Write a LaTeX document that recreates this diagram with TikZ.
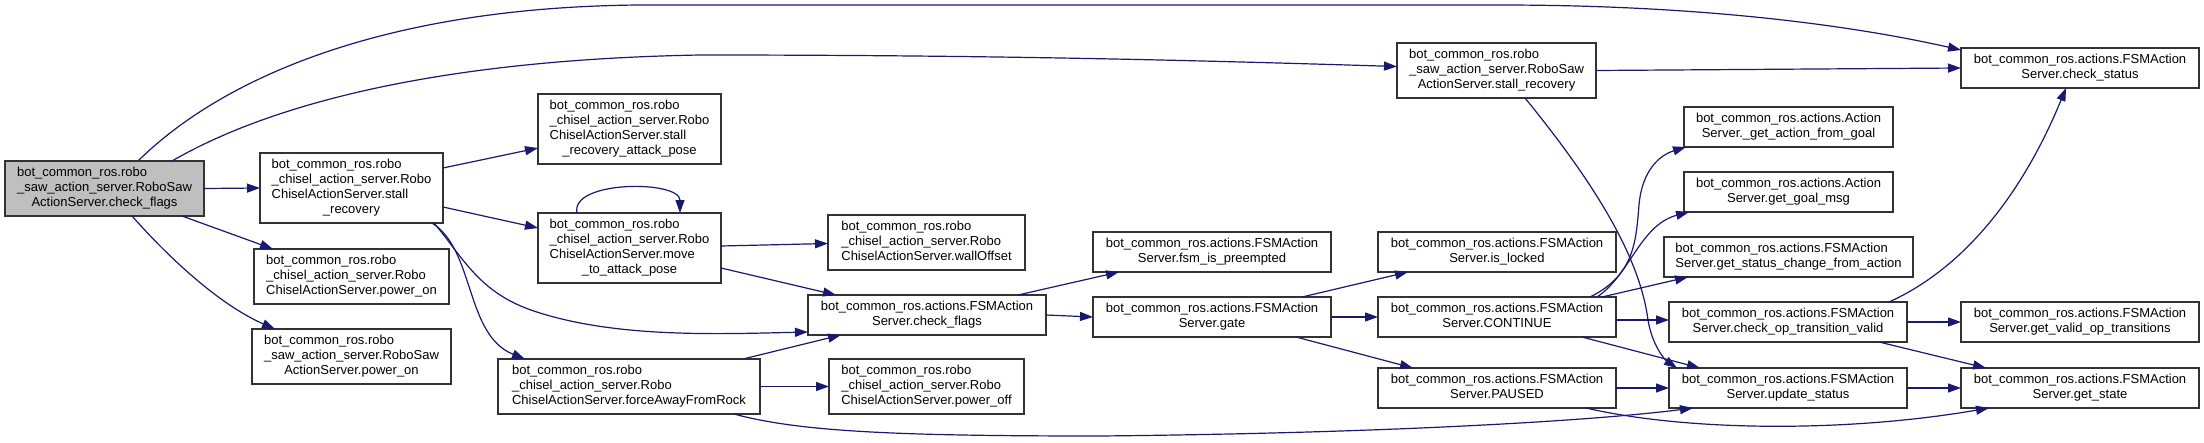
\documentclass[tikz,border=0pt]{standalone}
\usepackage{fontspec}
\setmainfont{Liberation Sans}
\usetikzlibrary{arrows.meta}
\definecolor{edgec}{HTML}{191970}
\definecolor{boxc}{HTML}{333333}
\definecolor{rootc}{HTML}{BFBFBF}
\newcommand{\nlab}[2]{\begin{tabular}{@{}l@{}}#1\\\multicolumn{1}{@{}c@{}}{#2}\end{tabular}}
\tikzset{
  fbox/.style={draw=boxc, line width=1.2pt, fill=white, inner sep=0pt, outer sep=0pt, anchor=north west,
    font=\fontsize{13}{15}\selectfont, text=black},
  calls/.style={draw=edgec, line width=1.2pt, -{Triangle[length=13pt,width=9pt]}},
}
\begin{document}
\begin{tikzpicture}[x=1pt,y=-1pt]
\path[fill=white,use as bounding box] (0,0) rectangle (2204,442);

% nodes
\node[fbox, fill=rootc, minimum width=199pt, minimum height=55pt] (root) at (5,161)
  {\nlab{bot\_common\_ros.robo\\\_saw\_action\_server.RoboSaw}{ActionServer.check\_flags}};
\node[fbox, minimum width=183pt, minimum height=70pt] (csr) at (260,153)
  {\nlab{bot\_common\_ros.robo\\\_chisel\_action\_server.Robo\\ChiselActionServer.stall}{\_recovery}};
\node[fbox, minimum width=195pt, minimum height=55pt] (cpon) at (254,249)
  {\nlab{bot\_common\_ros.robo\\\_chisel\_action\_server.Robo}{ChiselActionServer.power\_on}};
\node[fbox, minimum width=199pt, minimum height=55pt] (spon) at (252,329)
  {\nlab{bot\_common\_ros.robo\\\_saw\_action\_server.RoboSaw}{ActionServer.power\_on}};
\node[fbox, minimum width=183pt, minimum height=70pt] (srap) at (538,94)
  {\nlab{bot\_common\_ros.robo\\\_chisel\_action\_server.Robo\\ChiselActionServer.stall}{\_recovery\_attack\_pose}};
\node[fbox, minimum width=183pt, minimum height=70pt] (mtap) at (538,213)
  {\nlab{bot\_common\_ros.robo\\\_chisel\_action\_server.Robo\\ChiselActionServer.move}{\_to\_attack\_pose}};
\node[fbox, minimum width=197pt, minimum height=55pt] (woff) at (828,215)
  {\nlab{bot\_common\_ros.robo\\\_chisel\_action\_server.Robo}{ChiselActionServer.wallOffset}};
\node[fbox, minimum width=238pt, minimum height=40pt] (fcf) at (808,295)
  {\nlab{bot\_common\_ros.actions.FSMAction}{Server.check\_flags}};
\node[fbox, minimum width=262pt, minimum height=55pt] (fafr) at (498,359)
  {\nlab{bot\_common\_ros.robo\\\_chisel\_action\_server.Robo}{ChiselActionServer.forceAwayFromRock}};
\node[fbox, minimum width=195pt, minimum height=55pt] (poff) at (829,359)
  {\nlab{bot\_common\_ros.robo\\\_chisel\_action\_server.Robo}{ChiselActionServer.power\_off}};
\node[fbox, minimum width=199pt, minimum height=55pt] (ssr) at (1397,43)
  {\nlab{bot\_common\_ros.robo\\\_saw\_action\_server.RoboSaw}{ActionServer.stall\_recovery}};
\node[fbox, minimum width=238pt, minimum height=40pt] (fip) at (1093,232)
  {\nlab{bot\_common\_ros.actions.FSMAction}{Server.fsm\_is\_preempted}};
\node[fbox, minimum width=238pt, minimum height=40pt] (gate) at (1093,297)
  {\nlab{bot\_common\_ros.actions.FSMAction}{Server.gate}};
\node[fbox, minimum width=238pt, minimum height=40pt] (isl) at (1378,232)
  {\nlab{bot\_common\_ros.actions.FSMAction}{Server.is\_locked}};
\node[fbox, minimum width=238pt, minimum height=40pt] (cont) at (1378,297)
  {\nlab{bot\_common\_ros.actions.FSMAction}{Server.CONTINUE}};
\node[fbox, minimum width=238pt, minimum height=40pt] (paused) at (1378,368)
  {\nlab{bot\_common\_ros.actions.FSMAction}{Server.PAUSED}};
\node[fbox, minimum width=238pt, minimum height=40pt] (cst) at (1961,48)
  {\nlab{bot\_common\_ros.actions.FSMAction}{Server.check\_status}};
\node[fbox, minimum width=209pt, minimum height=40pt] (gafg) at (1684,107)
  {\nlab{bot\_common\_ros.actions.Action}{Server.\_get\_action\_from\_goal}};
\node[fbox, minimum width=209pt, minimum height=40pt] (ggm) at (1684,172)
  {\nlab{bot\_common\_ros.actions.Action}{Server.get\_goal\_msg}};
\node[fbox, minimum width=249pt, minimum height=40pt] (gscfa) at (1664,237)
  {\nlab{bot\_common\_ros.actions.FSMAction}{Server.get\_status\_change\_from\_action}};
\node[fbox, minimum width=238pt, minimum height=40pt] (cotv) at (1669,302)
  {\nlab{bot\_common\_ros.actions.FSMAction}{Server.check\_op\_transition\_valid}};
\node[fbox, minimum width=238pt, minimum height=40pt] (gvot) at (1961,302)
  {\nlab{bot\_common\_ros.actions.FSMAction}{Server.get\_valid\_op\_transitions}};
\node[fbox, minimum width=238pt, minimum height=40pt] (ups) at (1669,368)
  {\nlab{bot\_common\_ros.actions.FSMAction}{Server.update\_status}};
\node[fbox, minimum width=238pt, minimum height=40pt] (gst) at (1961,368)
  {\nlab{bot\_common\_ros.actions.FSMAction}{Server.get\_state}};

% edges from root
\draw[calls] (root.east) -- (csr.west);
\draw[calls] ([xshift=-22pt]root.south east) -- ([xshift=19pt]cpon.north west);
\draw[calls] ([xshift=127pt]root.south west) .. controls +(38,43) and +(-55,-24) .. ([xshift=23pt]spon.north west);
\draw[calls] ([xshift=133pt]root.north west) .. controls +(82,-81) and +(-260,2) .. (640,5) -- (1500,5)
  .. controls +(200,0) and +(-111,-25) .. ([yshift=-2pt]cst.north west);
\draw[calls] ([xshift=167pt]root.north west) .. controls +(88,-51) and +(-280,5) .. (700,55)
  .. controls +(300,0) and +(-197,-6) .. ([yshift=4pt]ssr.west);

% chisel stall_recovery
\draw[calls] ([yshift=20pt]csr.east) -- ([yshift=-19pt]srap.west);
\draw[calls] ([yshift=-19pt]csr.east) -- ([yshift=20pt]mtap.west);
\draw[calls] ([xshift=-11pt]csr.south east) .. controls +(43,27) and +(-60,-24) .. ([xshift=27pt]fafr.north west);
\draw[calls] ([xshift=-9pt]csr.south east) .. controls +(31,37) and +(-60,-18) .. (540,313)
  .. controls +(80,25) and +(-88,2) .. ([yshift=-17pt]fcf.west);

% move_to_attack_pose
\draw[calls] ([xshift=39pt]mtap.north west) .. controls +(-7,-33) and +(0,-33) .. ([xshift=142pt]mtap.north west);
\draw[calls] ([yshift=2pt]mtap.east) -- ([yshift=-1pt]woff.west);
\draw[calls] ([yshift=-20pt]mtap.east) -- ([xshift=28pt]fcf.north west);

% forceAwayFromRock
\draw[calls] ([xshift=-17pt]fafr.north east) -- ([xshift=33pt]fcf.south west);
\draw[calls] (fafr.east) -- (poff.west);
\draw[calls] ([xshift=-26pt]fafr.south east) .. controls +(66,18) and +(-200,0) .. (1100,436)
  .. controls +(300,-3) and +(-93,12) .. ([xshift=24pt]ups.south west);

% FSM check_flags and gate
\draw[calls] ([xshift=-28pt]fcf.north east) -- ([xshift=26pt]fip.south west);
\draw[calls] (fcf.east) -- (gate.west);
\draw[calls] ([xshift=-29pt]gate.north east) -- ([xshift=30pt]isl.south west);
\draw[calls] (gate.east) -- (cont.west);
\draw[calls] ([xshift=-35pt]gate.south east) -- ([xshift=35pt]paused.north west);

% saw stall_recovery
\draw[calls] (ssr.east) -- (cst.west);
\draw[calls] ([xshift=-71pt]ssr.south east) .. controls +(75,92) and +(-8,-60) .. (1648,320)
  .. controls +(4,25) and +(-12,-8) .. ([xshift=8pt]ups.north west);

% CONTINUE
\draw[calls] ([xshift=-26pt]cont.north east) .. controls +(45,-22) and +(-3,35) .. (1639,205)
  .. controls +(3,-35) and +(-26,8) .. ([xshift=2pt]gafg.south west);
\draw[calls] ([xshift=-19pt]cont.north east) .. controls +(33,-22) and +(-49,13) .. ([xshift=5pt]ggm.south west);
\draw[calls] ([xshift=-14pt]cont.north east) -- ([xshift=24pt]gscfa.south west);
\draw[calls] ([yshift=-3pt]cont.east) -- ([yshift=2pt]cotv.west);
\draw[calls] ([xshift=-34pt]cont.south east) -- ([xshift=31pt]ups.north west);

% PAUSED
\draw[calls] (paused.east) -- (ups.west);
\draw[calls] ([xshift=-30pt]paused.south east) .. controls +(104,24) and +(-139,24) .. ([xshift=28pt]gst.south west);

% check_op_transition_valid
\draw[calls] ([xshift=-18pt]cotv.north east) .. controls +(71,-32) and +(-46,112) .. ([xshift=105pt]cst.south west);
\draw[calls] (cotv.east) -- (gvot.west);
\draw[calls] ([xshift=-28pt]cotv.south east) -- ([xshift=25pt]gst.north west);

% update_status
\draw[calls] (ups.east) -- (gst.west);
\end{tikzpicture}
\end{document}
